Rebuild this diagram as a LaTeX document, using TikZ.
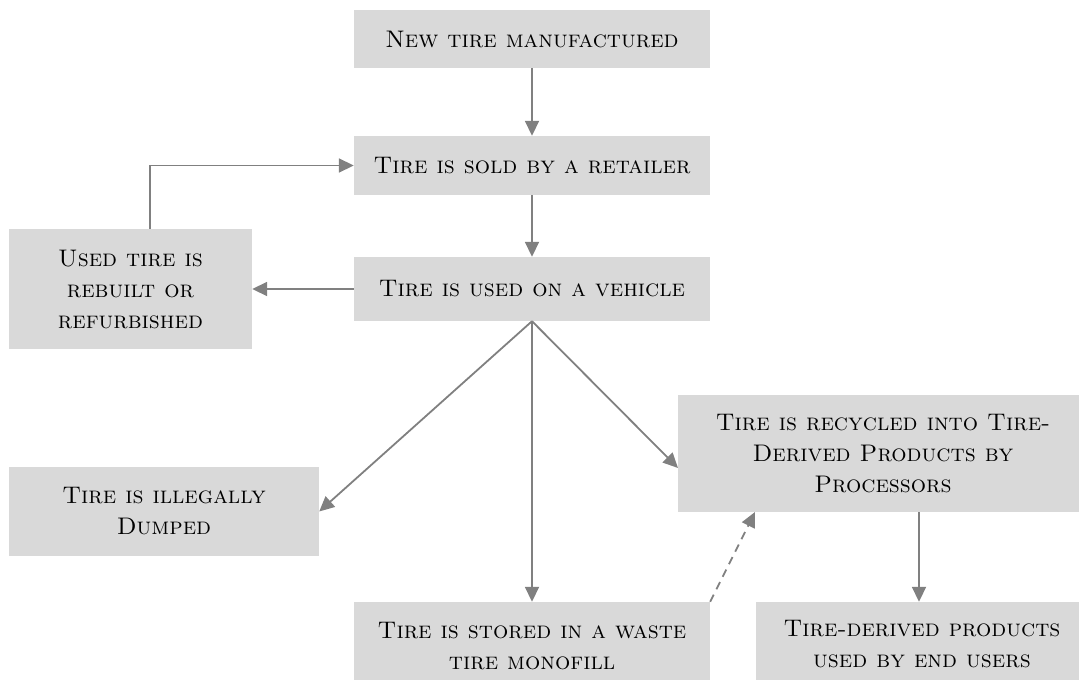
\documentclass[tikz,border=0pt]{standalone}
\usetikzlibrary{arrows.meta,calc}
\definecolor{boxfill}{HTML}{D9D9D9}
\definecolor{arrowgray}{HTML}{808080}
\begin{document}
\begin{tikzpicture}[x=1pt,y=-1pt,
  flowbox/.style={rectangle,fill=boxfill,draw=none,align=center,inner sep=0pt,
    font=\fontsize{24}{31}\selectfont\scshape},
  flow/.style={draw=arrowgray,line width=1.8pt,-{Triangle[length=15pt,width=14pt]}},
  dashflow/.style={flow,dash pattern=on 8pt off 6pt}]
\useasboundingbox (0,0) rectangle (1079,680);
\begin{scope}
\clip (0,0) rectangle (1079,680);
\node[flowbox,minimum width=356pt,minimum height=58pt] (n1) at (532,39) {New tire manufactured};
\node[flowbox,minimum width=356pt,minimum height=59pt] (n2) at (532,165.5) {Tire is sold by a retailer};
\node[flowbox,minimum width=356pt,minimum height=64pt] (n3) at (532,289) {Tire is used on a vehicle};
\node[flowbox,minimum width=243pt,minimum height=120pt] (u) at (130.5,289) {Used tire is\\rebuilt or\\refurbished};
\node[flowbox,minimum width=310pt,minimum height=89pt] (il) at (164,511.5) {Tire is illegally\\Dumped};
\node[flowbox,minimum width=356pt,minimum height=88pt] (st) at (532,646) {Tire is stored in a waste\\tire monofill};
\node[flowbox,minimum width=410pt,minimum height=117pt] (rc) at (883,453.5) {Tire is recycled into Tire-\\Derived Products by\\Processors};
\node[flowbox,minimum width=332pt,minimum height=84pt] (td) at (922,644) {Tire-derived products\\used by end users};
\end{scope}
\coordinate (loopx) at (150,0);
\coordinate (rcin) at (678,468);
\coordinate (rcdash) at (755,512);
\coordinate (tdx) at (919,0);
\draw[flow] (n1.south) -- (n2.north);
\draw[flow] (n2.south) -- (n3.north);
\draw[flow] (n3.west) -- (u.east);
\draw[flow] (loopx |- u.north) |- (n2.west);
\draw[flow] (n3.south) -- (st.north);
\draw[flow] (n3.south) -- (il.east);
\draw[flow] (n3.south) -- (rcin);
\draw[dashflow] (st.north east) -- (rcdash);
\draw[flow] (rc.south -| tdx) -- (td.north -| tdx);
\end{tikzpicture}
\end{document}
